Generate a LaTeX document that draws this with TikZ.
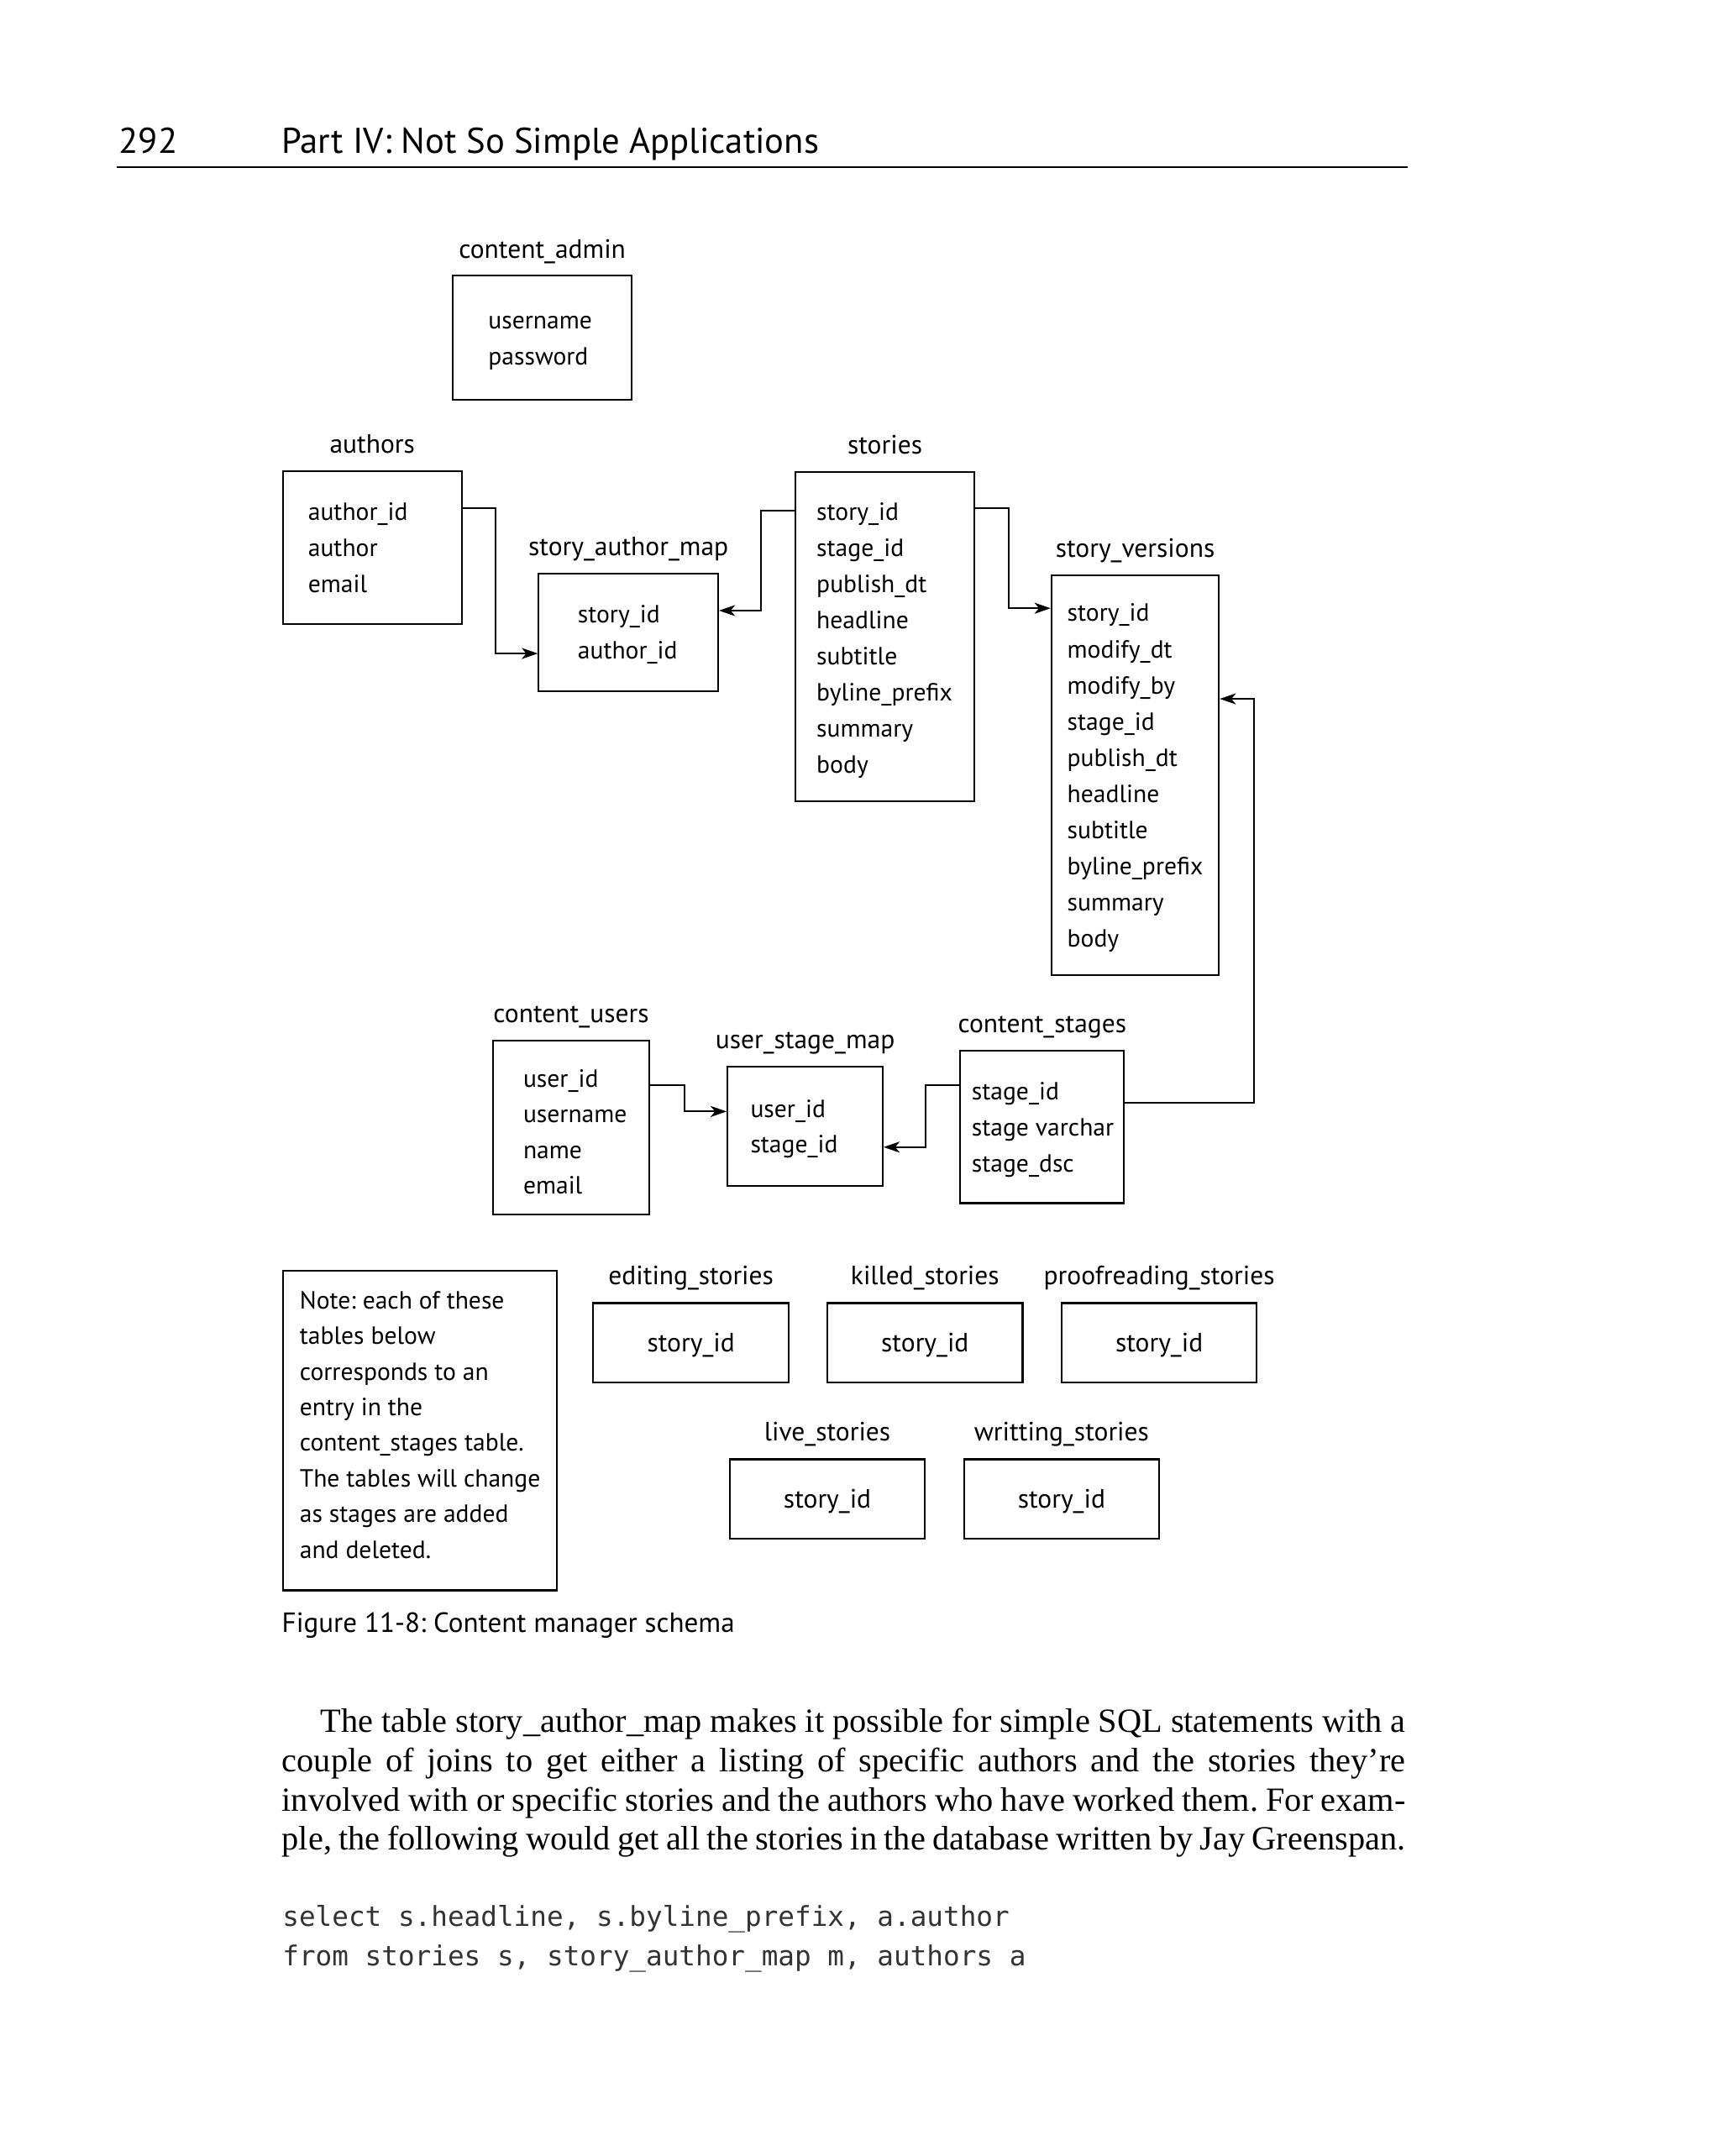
\documentclass[tikz,border=0pt]{standalone}
\usepackage{fontspec}
\setmainfont{Liberation Serif}
\newfontfamily\dgfont{PT Sans}
\newfontfamily\bodyfont{Liberation Serif}
\newfontfamily\codefont{DejaVu Sans Mono}
\usetikzlibrary{arrows.meta,calc,fit}
\frenchspacing

\begin{document}
\begin{tikzpicture}[x=0.014974cm,y=-0.014974cm,
  tbl/.style={draw,line width=0.55pt,inner sep=0pt},
  fld/.style={anchor=base west,inner sep=0pt,font=\dgfont\fontsize{7.7}{9}\selectfont},
  ttl/.style={anchor=base,inner sep=0pt,font=\dgfont\fontsize{8.2}{9}\selectfont},
  link/.style={line width=0.55pt,-{Stealth[length=5pt,width=3.4pt,inset=1.4pt]}},
  body/.style={anchor=base west,inner sep=0pt,font=\bodyfont\fontsize{10.5}{12}\selectfont},
  code/.style={anchor=base west,inner sep=0pt,text=black!80,font=\codefont\fontsize{8.5}{10}\selectfont}]
  \useasboundingbox (0,0) rectangle (1251,1568);
  % Running head
  \node[anchor=base west,inner sep=0pt,font=\dgfont\fontsize{11.1}{12}\selectfont] (pgno) at (86,111.6) {292};
  \node[anchor=base west,inner sep=0pt,font=\dgfont\fontsize{11.1}{12}\selectfont] (head) at (204.4,111.6) {Part IV: Not So Simple Applications};
  \draw[line width=0.45pt] (84.8,121.6) -- (1024,121.6);
  % Tables
  \node[tbl,fit={(329.3,200.2) (459.4,290.8)}] (admin) {};
  \node[ttl] (admin-t) at ($(admin.north)+(0,-11.5)$) {content\_admin};
  \foreach \f [count=\i] in {username,password}
    \node[fld] (admin-\i) at (354.7,{238.9+26.3*(\i-1)}) {\f};

  \node[tbl,fit={(205.6,342.6) (335.9,454)}] (authors) {};
  \node[ttl] (authors-t) at ($(authors.north)+(0,-12.5)$) {authors};
  \foreach \f [count=\i] in {author\_id,author,email}
    \node[fld] (authors-\i) at (223.6,{378.3+26.3*(\i-1)}) {\f};

  \node[tbl,fit={(391.8,417.4) (522.2,502.6)}] (sam) {};
  \node[ttl] (sam-t) at ($(sam.north)+(0,-12.5)$) {story\_author\_map};
  \foreach \f [count=\i] in {story\_id,author\_id}
    \node[fld] (sam-\i) at (419.7,{453+26.3*(\i-1)}) {\f};

  \node[tbl,fit={(578.6,343.5) (708.5,582.5)}] (stories) {};
  \node[ttl] (stories-t) at ($(stories.north)+(0,-12.5)$) {stories};
  \foreach \f [count=\i] in {story\_id,stage\_id,publish\_dt,headline,subtitle,byline\_prefix,summary,body}
    \node[fld] (stories-\i) at (593.4,{378.2+26.3*(\i-1)}) {\f};

  \node[tbl,fit={(764.7,418.4) (886.4,709.2)}] (versions) {};
  \node[ttl] (versions-t) at ($(versions.north)+(0,-12.5)$) {story\_versions};
  \foreach \f [count=\i] in {story\_id,modify\_dt,modify\_by,stage\_id,publish\_dt,headline,subtitle,byline\_prefix,summary,body}
    \node[fld] (versions-\i) at (775.7,{452+26.3*(\i-1)}) {\f};

  \node[tbl,fit={(358.3,756.9) (472.4,883.3)}] (cusers) {};
  \node[ttl] (cusers-t) at ($(cusers.north)+(0,-12.5)$) {content\_users};
  \foreach \f [count=\i] in {user\_id,username,name,email}
    \node[fld] (cusers-\i) at (380.1,{790.5+26*(\i-1)}) {\f};

  \node[tbl,fit={(529.1,775.8) (641.9,862.4)}] (usmap) {};
  \node[ttl] (usmap-t) at ($(usmap.north)+(0,-12.5)$) {user\_stage\_map};
  \foreach \f [count=\i] in {user\_id,stage\_id}
    \node[fld] (usmap-\i) at (545.3,{812.5+26*(\i-1)}) {\f};

  \node[tbl,fit={(698.4,763.9) (817.4,875)}] (stages) {};
  \node[ttl] (stages-t) at ($(stages.north)+(0,-12.5)$) {content\_stages};
  \foreach \f [count=\i] in {stage\_id,stage varchar,stage\_dsc}
    \node[fld] (stages-\i) at (706.2,{799.6+26.3*(\i-1)}) {\f};

  % Relations
  \draw[link] ($(authors.north east)+(0,27.8)$) -- ++(24,0) |- ($(sam.north west)+(0,58.5)$);
  \draw[link] ($(stories.north west)+(0,28.5)$) -- ++(-24.8,0) |- ($(sam.north east)+(0,27.3)$);
  \draw[link] ($(stories.north east)+(0,26.7)$) -- ++(24.2,0) |- ($(versions.north west)+(0,24.6)$);
  \draw[link] ($(stages.north east)+(0,39)$) -- ++(93.8,0) |- ($(versions.north east)+(0,90.5)$);
  \draw[link] ($(cusers.north east)+(0,32.8)$) -- ++(24.6,0) |- ($(usmap.north west)+(0,33.2)$);
  \draw[link] ($(stages.north west)+(0,25.8)$) -- ++(-24.4,0) |- ($(usmap.north east)+(0,59.1)$);

  % Note and stage tables
  \node[tbl,fit={(205.7,924) (405,1156.6)}] (note) {};
  \foreach \f [count=\i] in {Note: each of these,tables below,corresponds to an,entry in the,content\_stages table.,The tables will change,as stages are added,and deleted.}
    \node[fld] (note-\i) at (217.5,{951.9+25.9*(\i-1)}) {\f};
  \foreach \n/\t/\xa/\ya in {editing/editing\_stories/431.5/947.7,killed/killed\_stories/601.7/947.7,
      proof/proofreading\_stories/772/947.7,live/live\_stories/530.7/1061.3,writing/writting\_stories/701/1061.3}{
    \node[tbl,fit={(\xa,\ya) (\xa+142,\ya+57.6)}] (\n) {};
    \node[ttl] (\n-t) at ($(\n.north)+(0,-12.5)$) {\t};
    \node[ttl] (\n-1) at ($(\n.center)+(0,6.5)$) {story\_id};
  }
  \node[anchor=base west,inner sep=0pt,font=\dgfont\fontsize{8.6}{10}\selectfont] (caption) at (204.6,1187.1) {Figure 11-8: Content manager schema};

  % Text below the figure
  \node[body] (par-1) at (232.5,1260) {\makebox[336.2pt][s]{The table story\_author\_map makes it possible for simple SQL statements with a}};
  \node[body] (par-2) at (204.6,1288.5) {\makebox[348pt][s]{couple of joins to get either a listing of specific authors and the stories they’re}};
  \node[body] (par-3) at (204.6,1317) {\makebox[348pt][s]{involved with or specific stories and the authors who have worked them. For exam-}};
  \node[body] (par-4) at (204.6,1345.5) {\makebox[348pt][s]{ple, the following would get all the stories in the database written by Jay Greenspan.}};
  \node[code] (sql-1) at (205,1400.9) {select s.headline, s.byline\_prefix, a.author};
  \node[code] (sql-2) at (205,1429.4) {from stories s, story\_author\_map m, authors a};
\end{tikzpicture}
\end{document}
